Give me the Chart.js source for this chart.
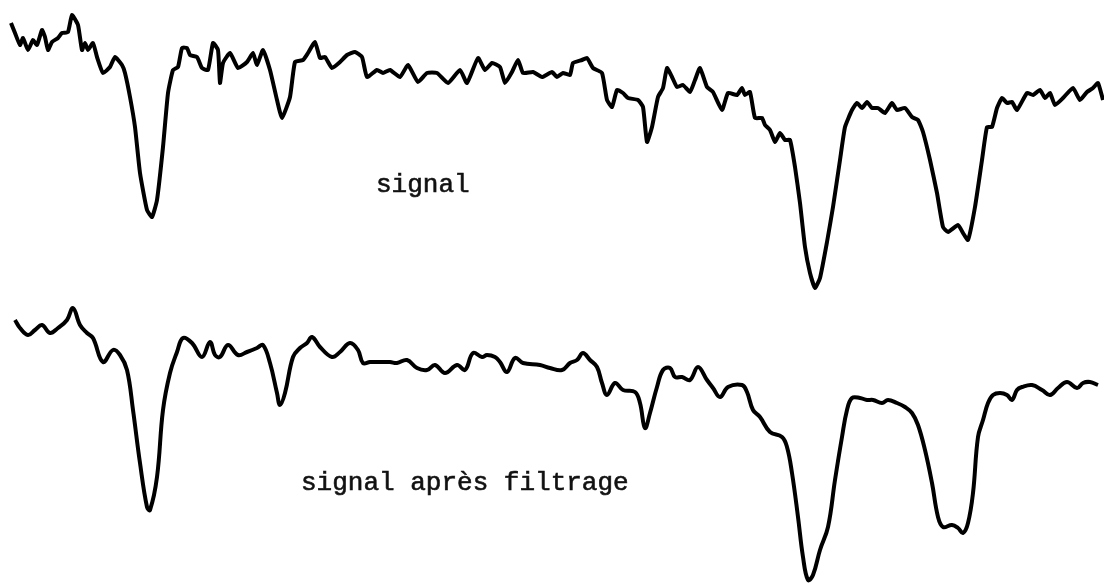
<!DOCTYPE html>
<html>
<head>
<meta charset="utf-8">
<script src="https://cdn.jsdelivr.net/npm/chart.js@4/dist/chart.umd.min.js"></script>
<style>
  html, body { margin: 0; padding: 0; background: #fff; }
  #wrap { position: relative; width: 1104px; height: 583px; }
  .lbl { position: absolute; font-family: "Liberation Mono", "DejaVu Sans Mono", monospace; font-size: 26px; color: #111; -webkit-text-stroke: 0.6px #111; white-space: nowrap; line-height: 1; }
</style>
</head>
<body>
<div id="wrap">
  <canvas id="c" width="1104" height="583"></canvas>
  <div class="lbl" style="left:376px; top:172px;">signal</div>
  <div class="lbl" style="left:301px; top:470px;">signal après filtrage</div>
</div>
<script>
// raw signal (top trace)
const signalX = [11,15,20,23,28,33,37,42,45,48,52,58,62,68,72,78,82,85,88,93,97,103,110,115,122,125,130,135,140,147,152,157,163,168,173,178,182,187,190,197,202,208,213,218,220,223,230,238,247,253,257,263,270,277,282,290,295,303,308,315,320,325,332,340,347,355,362,367,377,383,390,400,408,418,427,437,448,460,467,478,485,492,500,505,512,518,523,533,542,552,557,563,570,573,582,587,593,602,607,612,617,623,628,638,643,647,652,658,663,667,672,677,683,690,695,700,707,713,722,728,737,742,745,750,755,762,765,770,775,780,785,790,795,800,805,810,815,820,827,833,840,845,852,857,862,867,872,878,885,892,897,905,912,918,923,930,937,943,948,958,963,968,975,982,987,992,997,1002,1007,1012,1017,1027,1033,1040,1045,1050,1055,1063,1073,1080,1087,1093,1098,1103];
const signalY = [23,33,45,38,50,40,45,30,37,50,42,38,33,32,15,25,50,43,50,43,57,73,67,57,65,73,97,127,173,210,217,200,147,93,70,67,48,48,55,57,68,70,43,50,83,63,53,68,62,53,65,50,70,100,118,97,62,60,53,42,58,57,68,62,55,52,57,77,70,73,70,77,65,82,73,73,83,70,83,58,70,63,67,83,72,60,73,72,77,72,77,73,75,63,60,58,68,73,100,107,90,93,98,100,107,142,127,97,88,68,77,87,85,92,80,68,87,92,110,93,95,88,95,92,118,118,125,130,142,133,140,140,167,203,247,273,288,278,242,207,160,127,110,103,108,102,108,108,113,103,110,108,117,120,132,160,193,227,232,225,233,240,207,160,127,127,108,98,103,102,110,93,95,90,98,93,105,98,88,100,92,88,83,100];

// filtered signal (bottom trace)
const filtreX = [15,20,28,35,42,50,58,67,73,80,87,93,103,113,120,127,133,140,147,150,157,163,170,177,183,192,202,210,215,220,228,238,247,257,263,270,277,280,285,293,300,307,312,320,332,340,350,358,363,370,380,390,397,407,417,427,435,445,457,465,473,482,487,495,500,507,515,523,540,550,562,570,577,583,590,597,602,607,615,623,635,640,645,650,657,663,670,675,682,690,698,707,713,720,728,742,747,753,760,770,782,787,792,798,803,808,813,820,828,835,842,847,852,860,867,873,882,888,897,905,912,918,925,932,938,943,952,958,963,968,973,978,983,988,993,1000,1007,1012,1017,1022,1032,1042,1050,1058,1067,1077,1083,1090,1098];
const filtreY = [320,328,335,330,325,333,328,320,308,325,333,338,362,350,355,370,410,463,507,510,477,410,373,352,338,343,357,342,355,357,345,355,352,348,345,363,393,405,393,357,348,343,337,347,357,352,343,350,363,362,362,362,363,360,368,370,365,373,365,370,353,357,355,357,362,372,358,363,365,368,370,363,360,353,360,367,383,395,383,390,392,403,428,413,387,370,368,377,377,380,367,380,388,397,387,385,392,410,417,432,437,447,473,517,557,580,575,550,527,480,437,410,398,398,400,400,403,400,403,407,413,425,450,483,517,527,525,528,533,523,493,437,420,403,395,393,395,400,390,387,385,390,395,388,382,388,383,382,385];

const toPts = (xs, ys) => xs.map((x, i) => ({ x: x, y: ys[i] }));

new Chart(document.getElementById('c'), {
  type: 'line',
  data: {
    datasets: [
      {
        label: 'signal',
        data: toPts(signalX, signalY),
        borderColor: '#000',
        borderWidth: 4,
        pointRadius: 0,
        tension: 0.15,
        fill: false,
      },
      {
        label: 'signal après filtrage',
        data: toPts(filtreX, filtreY),
        borderColor: '#000',
        borderWidth: 4,
        pointRadius: 0,
        tension: 0.4,
        fill: false,
      },
    ],
  },
  options: {
    responsive: false,
    animation: false,
    layout: { padding: 0 },
    plugins: { legend: { display: false }, tooltip: { enabled: false } },
    scales: {
      x: { type: 'linear', min: 0, max: 1104, display: false },
      y: { min: 0, max: 583, reverse: true, display: false },
    },
  },
});
</script>
</body>
</html>
